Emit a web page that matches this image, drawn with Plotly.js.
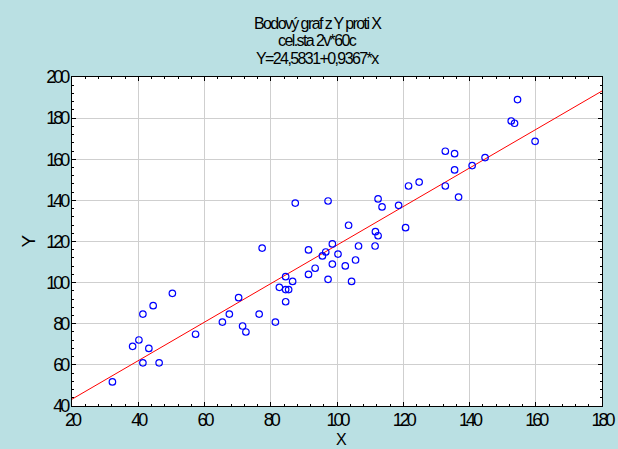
<!DOCTYPE html>
<html>
<head>
<meta charset="utf-8">
<script src="https://cdn.plot.ly/plotly-3.0.1.min.js"></script>
<style>
html,body{margin:0;padding:0;background:#BAE0E3;}
#chart{width:618px;height:449px;}
.xtick text,.ytick text{letter-spacing:-3px;}
.annotation-text{letter-spacing:-1.6px;}
</style>
</head>
<body>
<div id="chart"></div>
<script>
const xValues = [32.2,38.3,40.2,41.4,41.4,43.2,44.5,46.3,50.3,57.3,65.4,67.5,70.3,71.5,72.5,76.5,77.4,81.4,82.6,84.5,84.5,85.4,84.5,86.6,91.4,91.4,93.4,95.6,96.6,98.6,97.3,98.6,100.3,102.5,104.4,105.6,106.5,111.5,87.4,97.3,103.5,111.6,112.4,112.4,113.6,118.6,120.7,121.6,124.8,132.7,132.7,135.5,135.5,136.7,140.8,144.7,152.6,153.6,154.5,159.8];
const yValues = [51.7,69.0,72.1,84.7,61.0,68.0,88.8,61.0,94.8,74.9,80.8,84.7,92.7,78.9,76.0,84.7,116.8,80.8,97.7,102.9,96.6,96.6,90.7,100.6,115.9,104.0,107.0,113.0,114.9,118.8,101.6,109.0,113.9,108.1,100.6,111.0,117.8,117.8,138.7,139.7,127.9,124.8,122.8,140.7,136.8,137.6,126.7,147.0,148.9,147.0,163.9,162.7,154.8,141.6,156.9,160.8,178.6,177.5,189.0,168.7];
const intercept = 24.5831;
const slope = 0.9367;
const lineX = [20, 180];
const lineY = lineX.map(x => intercept + slope * x);
const titleLines = ["Bodový graf z Y proti X", "cel.sta 2v*60c", "Y=24,5831+0,9367*x"];
const xTitle = "X";
const yTitle = "Y";

const fontFam = "Liberation Sans Narrow, Arial Narrow, Liberation Sans, sans-serif";

const traces = [
  {x: lineX, y: lineY, mode: 'lines', line: {color: '#FF0000', width: 1}, hoverinfo: 'skip'},
  {x: xValues, y: yValues, mode: 'markers', cliponaxis: false,
   marker: {symbol: 'circle-open', size: 6.5, color: '#0000FF', line: {width: 1.2, color: '#0000FF'}}}
];

const axisCommon = {
  showgrid: true, gridcolor: '#CFCFCF', gridwidth: 1,
  showline: true, linecolor: '#000', linewidth: 1, mirror: 'ticks',
  ticks: 'inside', ticklen: 4, tickcolor: '#000',
  tickfont: {family: fontFam, size: 18, color: '#000'},
  zeroline: false,
  minor: {ticks: 'inside', ticklen: 2, tickcolor: '#000', dtick: 4, showgrid: false}
};

const titleAnn = titleLines.map((t, i) => ({
  text: t, xref: 'paper', yref: 'paper', x: 0.464, xanchor: 'center',
  y: 1, yshift: 54 - i * 17.5, yanchor: 'middle', showarrow: false,
  font: {family: fontFam, size: 16, color: '#000'}
}));

const layout = {
  width: 618, height: 449,
  paper_bgcolor: '#BAE0E3', plot_bgcolor: '#FFFFFF',
  margin: {l: 72, r: 16, t: 77, b: 43},
  showlegend: false,
  xaxis: Object.assign({}, axisCommon, {range: [20, 180], dtick: 20, tick0: 20, ticklabelstandoff: -3}),
  yaxis: Object.assign({}, axisCommon, {range: [40, 200], dtick: 20, tick0: 40}),
  annotations: titleAnn.concat([
    {text: xTitle, xref: 'paper', yref: 'paper', x: 0.508, xanchor: 'center',
     y: 0, yshift: -33, yanchor: 'middle', showarrow: false, borderpad: 0,
     font: {family: 'Liberation Sans, Arial, sans-serif', size: 16, color: '#000'}},
    {text: yTitle, xref: 'paper', yref: 'paper', x: 0, xshift: -44, xanchor: 'center',
     y: 0.5, yanchor: 'middle', textangle: -90, showarrow: false,
     font: {family: 'Liberation Sans, Arial, sans-serif', size: 19, color: '#000'}}
  ])
};

Plotly.newPlot('chart', traces, layout, {displayModeBar: false, staticPlot: true});
</script>
</body>
</html>
